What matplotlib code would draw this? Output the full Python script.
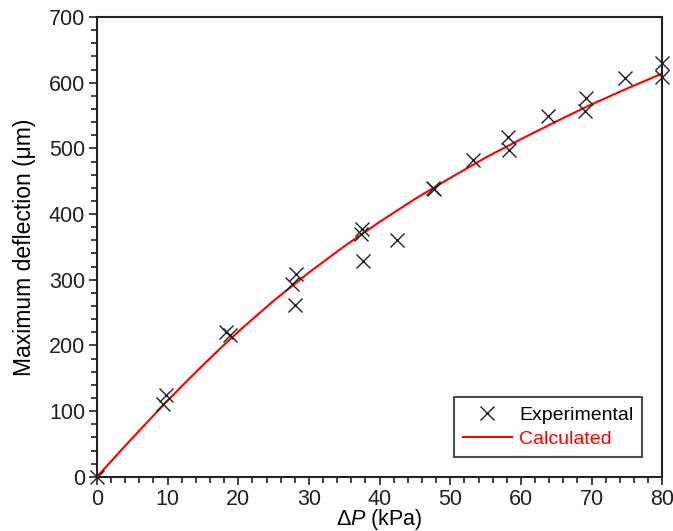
import numpy as np
import matplotlib
matplotlib.use("Agg")
import matplotlib.pyplot as plt
from matplotlib.ticker import MultipleLocator

plt.rcParams['font.family'] = ['Liberation Sans', 'DejaVu Sans']
plt.rcParams['mathtext.fontset'] = 'custom'
plt.rcParams['mathtext.it'] = 'Liberation Sans:italic'
plt.rcParams['mathtext.rm'] = 'Liberation Sans'

# measured deflection vs. pressure difference
exp_dp = [0, 9.3, 9.8, 18.3, 18.8, 28.2, 27.6, 28.0, 37.5, 37.4, 37.6, 42.4,
          47.5, 47.7, 53.2, 58.2, 58.3, 63.8, 69.2, 69.1, 74.7, 80.0, 80.0]
exp_w = [0, 111, 125, 220, 216, 309, 293, 261, 377, 370, 328, 361,
         440, 438, 483, 517, 498, 549, 577, 557, 607, 630, 609]

# model curve
calc_dp = [0, 2.5, 5, 7.5, 10, 12.5, 15, 17.5, 20, 22.5, 25, 30, 35, 40, 45,
           50, 55, 60, 65, 70, 75, 80]
calc_w = [0, 29.5, 59, 87.6, 116, 143.4, 170, 195.9, 221, 244.6, 268, 311,
          351, 388, 423, 455, 486, 514, 541, 567, 591, 614]

fig = plt.figure(figsize=(6.73, 5.31), dpi=100)
ax = fig.add_axes([0.144, 0.102, 0.84, 0.866])

ax.plot(exp_dp, exp_w, ls='none', marker='x', ms=9.5, mew=1.0, color='#222222',
        label='Experimental', clip_on=False, zorder=3)
ax.plot(calc_dp, calc_w, color='red', lw=1.5, label='Calculated', zorder=2)

ax.set_xlim(0, 80)
ax.set_ylim(0, 700)
ax.xaxis.set_major_locator(MultipleLocator(10))
ax.xaxis.set_minor_locator(MultipleLocator(2))
ax.yaxis.set_major_locator(MultipleLocator(100))
ax.yaxis.set_minor_locator(MultipleLocator(20))
ax.tick_params(which='both', direction='out', top=False, right=False,
               labelsize=15.5, colors='#222222', width=1.2)
ax.tick_params(which='major', length=6, pad=2.5)
ax.tick_params(which='minor', length=4)
for s in ax.spines.values():
    s.set_linewidth(1.5)
    s.set_color('#222222')

ax.set_xlabel(r'Δ$\mathit{P}$ (kPa)', fontsize=15.5, labelpad=-2)
ax.set_ylabel('Maximum deflection (μm)', fontsize=16.5, labelpad=9)

leg = ax.legend(loc='lower right', bbox_to_anchor=(0.982, 0.022), fontsize=14,
                frameon=True, fancybox=False, edgecolor='#222222',
                handlelength=2.5, handletextpad=0.4, borderpad=0.45,
                labelspacing=0.35)
leg.get_frame().set_linewidth(1.5)
leg.get_texts()[1].set_color('red')

fig.savefig('out.png', dpi=100)
